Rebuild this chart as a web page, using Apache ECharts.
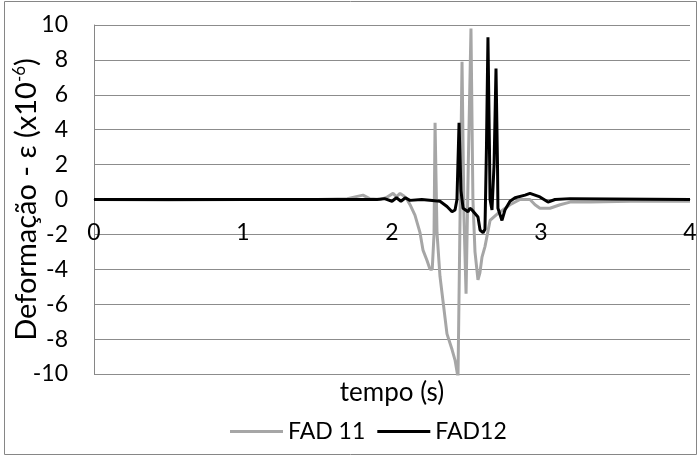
<!DOCTYPE html>
<html>
<head>
<meta charset="utf-8">
<script src="https://cdn.jsdelivr.net/npm/echarts@6/dist/echarts.min.js"></script>
<style>
  html, body { margin: 0; padding: 0; background: #fff; }
  #chart { width: 700px; height: 457px; }
</style>
</head>
<body>
<div id="chart"></div>
<script>
// values
const timeFad11 = [0, 0.5, 1.0, 1.5, 1.7, 1.805, 1.85, 1.92, 1.96, 2.007, 2.03, 2.054, 2.08, 2.101,
  2.121, 2.154, 2.188, 2.208, 2.235, 2.255, 2.27, 2.282, 2.289, 2.296, 2.302, 2.322, 2.342, 2.369,
  2.403, 2.423, 2.443, 2.456, 2.47, 2.483, 2.497, 2.512, 2.53, 2.543, 2.557, 2.577, 2.59, 2.604,
  2.624, 2.658, 2.711, 2.792, 2.859, 2.926, 2.96, 2.993, 3.06, 3.128, 3.195, 3.33, 3.6, 4.0];
const fad11 = [0, -0.03, 0, 0, 0.05, 0.25, 0.05, 0, 0.1, 0.35, 0.15, 0.35, 0.2, 0,
  -0.3, -0.9, -1.9, -2.9, -3.5, -4.0, -4.0, -2.0, 4.4, 1.0, -1.9, -4.4, -5.8, -7.7,
  -8.6, -9.2, -10.2, -10.2, 7.9, -1.0, -5.4, 2.0, 9.8, 0, -3.0, -4.6, -4.2, -3.3,
  -2.7, -1.2, -0.8, -0.3, 0, 0, -0.3, -0.5, -0.5, -0.3, -0.15, -0.15, -0.1, -0.1];

const timeFad12 = [0, 0.5, 1.0, 1.5, 1.9, 1.95, 2.0, 2.03, 2.06, 2.09, 2.12, 2.2, 2.322, 2.369,
  2.403, 2.423, 2.436, 2.45, 2.463, 2.47, 2.477, 2.51, 2.523, 2.537, 2.557, 2.577, 2.591, 2.611,
  2.624, 2.634, 2.644, 2.654, 2.658, 2.671, 2.685, 2.698, 2.708, 2.711, 2.738, 2.758, 2.792,
  2.826, 2.893, 2.926, 2.993, 3.047, 3.094, 3.195, 4.0];
const fad12 = [0, 0, 0, 0, 0, 0.05, -0.1, 0.1, -0.1, 0.1, -0.05, 0, -0.1, -0.4,
  -0.7, -0.6, 0, 4.4, 0.5, 0, -0.5, -0.7, -0.5, -0.6, -0.8, -1.0, -1.75, -1.9,
  -1.7, 3.0, 9.3, 3.0, 0, -0.6, 2.0, 7.5, 2.0, -0.5, -1.2, -0.6, -0.1,
  0.1, 0.25, 0.35, 0.15, -0.15, 0, 0.05, 0];

const seriesNames = ['FAD 11', 'FAD12'];
const yTicks = { min: -10, max: 10, interval: 2 };
const xTicks = { min: 0, max: 4, interval: 1 };

function pairs(ts, vs) {
  return ts.map((t, i) => [t, vs[i]]);
}

const chart = echarts.init(document.getElementById('chart'), null, { renderer: 'canvas' });
const font = 'Lato, "Open Sans", sans-serif';

chart.setOption({
  backgroundColor: '#fff',
  animation: false,
  graphic: [{
    type: 'rect',
    shape: { x: 4.5, y: 1.5, width: 692, height: 453 },
    style: { fill: 'none', stroke: '#868686', lineWidth: 1 }
  }],
  grid: { left: 94, right: 10, top: 25, bottom: 83, containLabel: false, outerBoundsMode: 'none' },
  legend: {
    data: seriesNames,
    left: 230,
    top: 420,
    padding: 0,
    icon: 'rect',
    itemWidth: 53,
    itemHeight: 3,
    itemGap: 12,
    textStyle: { fontFamily: font, fontSize: 23, color: '#000' }
  },
  xAxis: {
    type: 'value',
    min: xTicks.min,
    max: xTicks.max,
    interval: xTicks.interval,
    name: 'tempo (s)',
    nameLocation: 'middle',
    nameGap: 180,
    nameMoveOverlap: false,
    nameTextStyle: { fontFamily: font, fontSize: 26, color: '#000' },
    // axis drawn across the zero line, labels sitting on the -2 gridline
    offset: -174.5,
    axisLine: { onZero: false, lineStyle: { color: '#868686' } },
    axisTick: { show: false },
    splitLine: { show: false },
    axisLabel: { fontFamily: font, fontSize: 23, color: '#000', margin: 22, showMinLabel: true, showMaxLabel: true }
  },
  yAxis: {
    type: 'value',
    min: yTicks.min,
    max: yTicks.max,
    interval: yTicks.interval,
    name: 'Deformação - ε (x10{sup|-6})',
    nameLocation: 'middle',
    nameRotate: 90,
    nameGap: 52,
    nameMoveOverlap: false,
    nameTextStyle: {
      fontFamily: font, fontSize: 29, color: '#000',
      rich: { sup: { fontFamily: font, fontSize: 17, color: '#000', verticalAlign: 'top', padding: [0, 0, 14, 0] } }
    },
    axisLine: { show: true, lineStyle: { color: '#868686' } },
    axisTick: { show: false },
    splitLine: { show: true, lineStyle: { color: '#8c8c8c', width: 1 } },
    axisLabel: { fontFamily: font, fontSize: 23, color: '#000', margin: 26, showMinLabel: true, showMaxLabel: true }
  },
  series: [{
    name: seriesNames[0],
    type: 'line',
    data: pairs(timeFad11, fad11),
    symbol: 'none',
    lineStyle: { color: '#a6a6a6', width: 3 },
    itemStyle: { color: '#a6a6a6' }
  }, {
    name: seriesNames[1],
    type: 'line',
    data: pairs(timeFad12, fad12),
    symbol: 'none',
    lineStyle: { color: '#000', width: 3 },
    itemStyle: { color: '#000' }
  }]
});
</script>
</body>
</html>
